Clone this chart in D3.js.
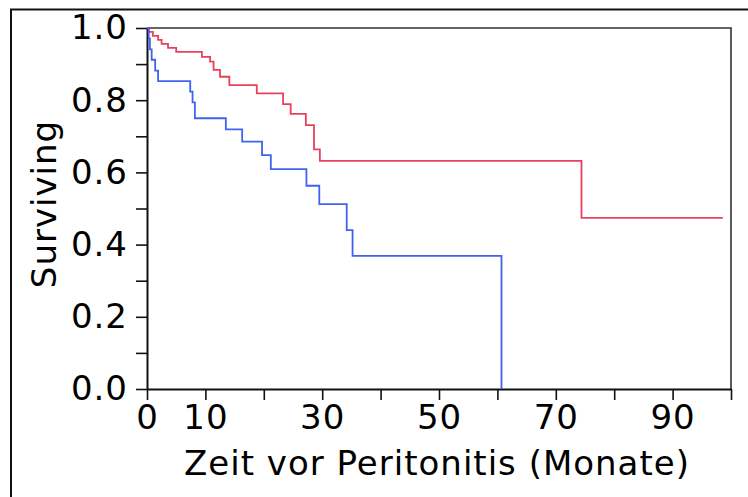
<!DOCTYPE html>
<html>
<head>
<meta charset="utf-8">
<script src="https://cdn.jsdelivr.net/npm/d3@7"></script>
<style>
  html, body { margin: 0; padding: 0; background: #fff; }
  svg { display: block; }
  text { font-family: "DejaVu Sans", Verdana, sans-serif; fill: #000; }
</style>
</head>
<body>
<svg id="chart" width="748" height="497"></svg>
<script>
// Kaplan–Meier survival estimates, two groups (time in months)
const redTimes = [0, 0.3, 1.0, 1.9, 2.5, 3.6, 5.0, 9.4, 10.8, 11.4, 12.5, 14.1, 18.8, 23.3, 24.6, 27.2, 28.6, 29.6, 74.4, 98.6];
const redSurv  = [1, 0.989, 0.978, 0.967, 0.956, 0.945, 0.934, 0.920, 0.907, 0.884, 0.865, 0.842, 0.819, 0.789, 0.762, 0.731, 0.664, 0.632, 0.474, 0.474];

const blueTimes = [0, 0.3, 0.5, 0.8, 1.4, 1.9, 7.4, 7.8, 8.2, 13.5, 16.3, 19.7, 21.2, 27.3, 29.5, 34.2, 35.2, 60.7];
const blueSurv  = [1, 0.971, 0.941, 0.912, 0.882, 0.853, 0.824, 0.794, 0.750, 0.719, 0.685, 0.648, 0.609, 0.563, 0.512, 0.440, 0.369, 0];

const xTicks = [0, 10, 20, 30, 40, 50, 60, 70, 80, 90, 100];
const xTickLabels = [0, 10, 30, 50, 70, 90];
const yTicks = [0, 0.1, 0.2, 0.3, 0.4, 0.5, 0.6, 0.7, 0.8, 0.9, 1.0];
const yTickLabels = [0, 0.2, 0.4, 0.6, 0.8, 1.0];

const xTitle = "Zeit vor Peritonitis (Monate)";
const yTitle = "Surviving";

const svg = d3.select("#chart");
const plot = { left: 147, right: 731, top: 28, bottom: 389 };

const x = d3.scaleLinear().domain([0, 100]).range([plot.left, plot.right]);
const y = d3.scaleLinear().domain([0, 1]).range([plot.bottom, plot.top]);

// outer frame
svg.append("rect")
  .attr("x", 11).attr("y", 9.5)
  .attr("width", 760).attr("height", 520)
  .attr("fill", "none").attr("stroke", "#111").attr("stroke-width", 2);

// plot border (top and right)
svg.append("path")
  .attr("d", `M${plot.left},${plot.top}H${plot.right}V${plot.bottom}`)
  .attr("fill", "none").attr("stroke", "#333").attr("stroke-width", 1.6);

const fontSize = 34;
const spacing = "1px";

// y axis
const yAxis = d3.axisLeft(y)
  .tickValues(yTicks)
  .tickSize(11)
  .tickSizeOuter(0)
  .tickPadding(8)
  .tickFormat(d => yTickLabels.some(v => Math.abs(v - d) < 1e-9) ? d3.format(".1f")(d) : "");
const gy = svg.append("g").attr("transform", `translate(${plot.left},0)`).call(yAxis);

// x axis
const xAxis = d3.axisBottom(x)
  .tickValues(xTicks)
  .tickSize(11)
  .tickSizeOuter(0)
  .tickPadding(5)
  .tickFormat(d => xTickLabels.includes(d) ? String(d) : "");
const gx = svg.append("g").attr("transform", `translate(0,${plot.bottom})`).call(xAxis);

[gx, gy].forEach(g => {
  g.selectAll("path.domain").attr("stroke", "#111").attr("stroke-width", 2);
  g.selectAll(".tick line").attr("stroke", "#111").attr("stroke-width", 1.6);
  g.selectAll(".tick text")
    .style("font-family", '"DejaVu Sans", Verdana, sans-serif')
    .style("letter-spacing", spacing)
    .attr("font-size", fontSize).attr("fill", "#000");
});

// survival step curves
const line = d3.line()
  .x(d => x(d[0]))
  .y(d => y(d[1]))
  .curve(d3.curveStepAfter);

const redData = redTimes.map((t, i) => [t, redSurv[i]]);
const blueData = blueTimes.map((t, i) => [t, blueSurv[i]]);

svg.append("path").datum(redData)
  .attr("d", line)
  .attr("fill", "none").attr("stroke", "#e8415c").attr("stroke-width", 1.8);

svg.append("path").datum(blueData)
  .attr("d", line)
  .attr("fill", "none").attr("stroke", "#4062ef").attr("stroke-width", 1.8);

// axis titles
svg.append("text")
  .attr("x", 437).attr("y", 475)
  .attr("text-anchor", "middle")
  .attr("font-size", fontSize)
  .style("letter-spacing", spacing)
  .text(xTitle);

svg.append("text")
  .attr("transform", "translate(56,204) rotate(-90)")
  .attr("text-anchor", "middle")
  .attr("font-size", fontSize)
  .style("letter-spacing", spacing)
  .text(yTitle);
</script>
</body>
</html>
